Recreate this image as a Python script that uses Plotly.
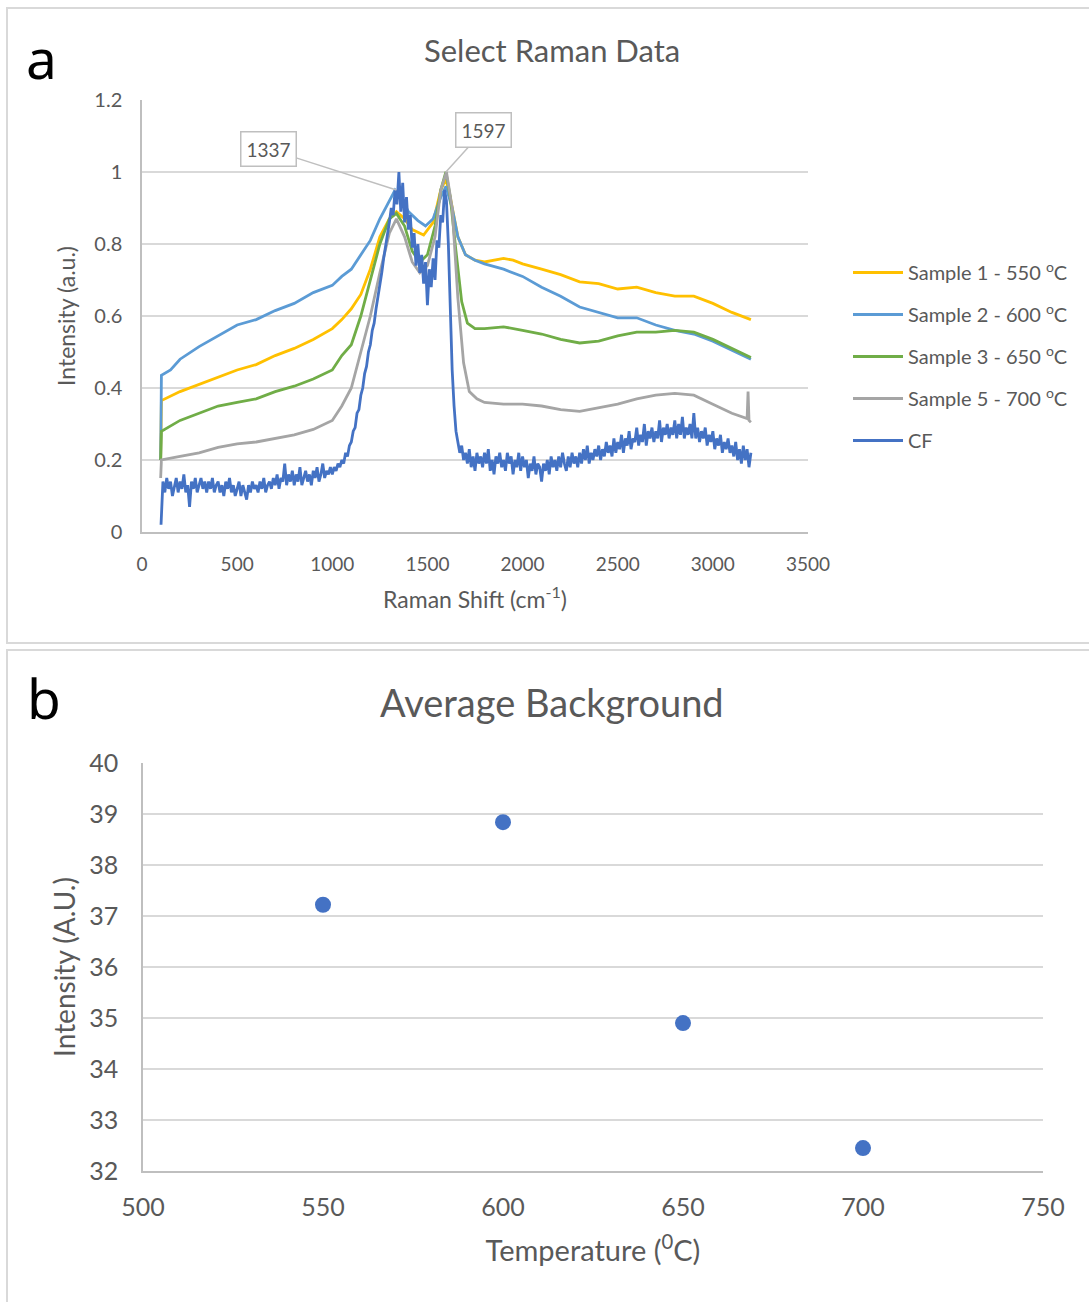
import plotly.graph_objects as go

# ---------------- Panel a: Raman spectra ----------------
s1_shift = [98, 102, 200, 300, 400, 500, 600, 700, 800, 900, 1000, 1050, 1100, 1150, 1200, 1250, 1300,
            1337, 1380, 1420, 1480, 1530, 1570, 1597, 1620, 1660, 1700, 1750, 1800, 1850, 1900, 1950,
            2000, 2100, 2200, 2300, 2400, 2500, 2600, 2700, 2800, 2900, 3000, 3100, 3200]
s1_int = [0.20, 0.365, 0.39, 0.41, 0.43, 0.45, 0.465, 0.49, 0.51, 0.535, 0.565, 0.59, 0.62, 0.66, 0.73,
          0.82, 0.87, 0.89, 0.87, 0.84, 0.825, 0.86, 0.95, 0.98, 0.93, 0.82, 0.77, 0.755, 0.75, 0.755,
          0.76, 0.755, 0.745, 0.73, 0.715, 0.695, 0.69, 0.675, 0.68, 0.665, 0.655, 0.655, 0.635, 0.61, 0.59]

s2_shift = [98, 102, 150, 200, 300, 400, 500, 600, 700, 800, 900, 1000, 1050, 1100, 1150, 1200, 1250,
            1300, 1330, 1360, 1400, 1450, 1490, 1530, 1570, 1597, 1630, 1660, 1700, 1750, 1800, 1900,
            2000, 2100, 2200, 2300, 2400, 2500, 2600, 2700, 2800, 2900, 3000, 3100, 3200]
s2_int = [0.20, 0.435, 0.45, 0.48, 0.515, 0.545, 0.575, 0.59, 0.615, 0.635, 0.665, 0.685, 0.71, 0.73,
          0.77, 0.81, 0.87, 0.92, 0.95, 0.93, 0.89, 0.865, 0.85, 0.87, 0.93, 0.96, 0.90, 0.82, 0.77,
          0.755, 0.745, 0.73, 0.71, 0.68, 0.655, 0.625, 0.61, 0.595, 0.595, 0.575, 0.56, 0.55, 0.53,
          0.505, 0.48]

s3_shift = [98, 102, 200, 300, 400, 500, 600, 700, 800, 900, 1000, 1050, 1100, 1150, 1200, 1250, 1300,
            1337, 1380, 1420, 1460, 1500, 1540, 1570, 1597, 1620, 1650, 1680, 1710, 1750, 1800, 1900,
            2000, 2100, 2200, 2300, 2400, 2500, 2600, 2700, 2800, 2900, 3000, 3100, 3200]
s3_int = [0.20, 0.28, 0.31, 0.33, 0.35, 0.36, 0.37, 0.39, 0.405, 0.425, 0.45, 0.49, 0.52, 0.60, 0.70,
          0.80, 0.87, 0.885, 0.85, 0.78, 0.75, 0.77, 0.85, 0.95, 1.00, 0.93, 0.78, 0.64, 0.58, 0.565,
          0.565, 0.57, 0.56, 0.55, 0.535, 0.525, 0.53, 0.545, 0.555, 0.555, 0.56, 0.555, 0.535, 0.51,
          0.485]

s5_shift = [98, 102, 200, 300, 400, 500, 600, 700, 800, 900, 1000, 1050, 1100, 1150, 1200, 1250, 1300,
            1337, 1380, 1420, 1460, 1500, 1540, 1570, 1600, 1630, 1660, 1690, 1720, 1760, 1800, 1900,
            2000, 2100, 2200, 2300, 2400, 2500, 2600, 2700, 2800, 2900, 3000, 3100, 3180, 3185, 3190,
            3200]
s5_int = [0.15, 0.20, 0.21, 0.22, 0.235, 0.245, 0.25, 0.26, 0.27, 0.285, 0.31, 0.35, 0.40, 0.50, 0.60,
          0.72, 0.83, 0.87, 0.82, 0.75, 0.72, 0.74, 0.82, 0.95, 1.00, 0.90, 0.65, 0.47, 0.39, 0.37,
          0.36, 0.355, 0.355, 0.35, 0.34, 0.335, 0.345, 0.355, 0.37, 0.38, 0.385, 0.38, 0.355, 0.33,
          0.315, 0.39, 0.31, 0.305]

cf_shift = list(range(100, 3201, 10))
cf_int = [
    0.02, 0.14, 0.11, 0.15, 0.12, 0.14, 0.10, 0.13, 0.15, 0.11,
    0.14, 0.12, 0.16, 0.11, 0.13, 0.07, 0.14, 0.12, 0.15, 0.11,
    0.13, 0.15, 0.12, 0.14, 0.11, 0.14, 0.12, 0.15, 0.11, 0.13,
    0.14, 0.11, 0.13, 0.10, 0.14, 0.12, 0.15, 0.11, 0.13, 0.10,
    0.12, 0.14, 0.10, 0.13, 0.11, 0.09, 0.13, 0.11, 0.14, 0.12,
    0.13, 0.11, 0.14, 0.12, 0.15, 0.11, 0.13, 0.14, 0.12, 0.15,
    0.13, 0.16, 0.12, 0.15, 0.14, 0.19, 0.13, 0.16, 0.14, 0.17,
    0.13, 0.16, 0.14, 0.18, 0.13, 0.15, 0.17, 0.14, 0.16, 0.13,
    0.17, 0.15, 0.18, 0.14, 0.16, 0.19, 0.15, 0.17, 0.16, 0.18,
    0.16, 0.18, 0.17, 0.19, 0.18, 0.20, 0.19, 0.22, 0.21, 0.24,
    0.25, 0.28, 0.29, 0.33, 0.34, 0.38, 0.40, 0.44, 0.46, 0.50,
    0.52, 0.56, 0.58, 0.62, 0.65, 0.69, 0.72, 0.76, 0.79, 0.83,
    0.86, 0.90, 0.88, 0.95, 0.91, 1.00, 0.89, 0.97, 0.86, 0.93,
    0.84, 0.88, 0.79, 0.83, 0.74, 0.80, 0.72, 0.77, 0.69, 0.75,
    0.63, 0.73, 0.68, 0.76, 0.70, 0.81, 0.79, 0.88, 0.86, 0.95,
    0.92, 0.80, 0.62, 0.45, 0.35, 0.28, 0.25, 0.22, 0.24, 0.20,
    0.22, 0.19, 0.23, 0.18, 0.21, 0.17, 0.22, 0.19, 0.21, 0.18,
    0.22, 0.19, 0.23, 0.17, 0.20, 0.16, 0.21, 0.19, 0.22, 0.18,
    0.20, 0.17, 0.22, 0.19, 0.21, 0.16, 0.20, 0.18, 0.22, 0.17,
    0.21, 0.18, 0.20, 0.15, 0.19, 0.17, 0.21, 0.16, 0.19, 0.18,
    0.14, 0.19, 0.17, 0.20, 0.16, 0.21, 0.18, 0.20, 0.17, 0.21,
    0.18, 0.22, 0.19, 0.17, 0.21, 0.18, 0.22, 0.19, 0.21, 0.18,
    0.22, 0.19, 0.23, 0.20, 0.24, 0.19, 0.22, 0.20, 0.23, 0.21,
    0.24, 0.20, 0.23, 0.21, 0.25, 0.22, 0.24, 0.21, 0.26, 0.22,
    0.25, 0.23, 0.27, 0.22, 0.26, 0.24, 0.28, 0.23, 0.26, 0.25,
    0.29, 0.24, 0.27, 0.25, 0.30, 0.24, 0.28, 0.26, 0.29, 0.25,
    0.28, 0.26, 0.31, 0.25, 0.29, 0.27, 0.30, 0.26, 0.29, 0.27,
    0.31, 0.26, 0.30, 0.27, 0.32, 0.26, 0.29, 0.27, 0.30, 0.26,
    0.33, 0.26, 0.29, 0.25, 0.28, 0.26, 0.29, 0.24, 0.27, 0.25,
    0.28, 0.23, 0.26, 0.24, 0.27, 0.22, 0.25, 0.23, 0.26, 0.22,
    0.24, 0.21, 0.25, 0.20, 0.23, 0.19, 0.24, 0.20, 0.23, 0.18,
    0.22,
]

series_names = ["Sample 1 - 550 <sup>o</sup>C", "Sample 2 - 600 <sup>o</sup>C",
                "Sample 3 - 650 <sup>o</sup>C", "Sample 5 - 700 <sup>o</sup>C", "CF"]

peak_labels = ["1337", "1597"]
peak_y = [0.95, 1.0]

# ---------------- Panel b: average background ----------------
temps = [550, 600, 650, 700]
bg_intensity = [37.22, 38.84, 34.90, 32.45]

# ---------------- styling ----------------
W, H = 1089, 1302
FONT = "Lato"
GREY_TXT = "#595959"
GRID = "#D9D9D9"
AXLINE = "#BFBFBF"
colors = ["#FFC000", "#5B9BD5", "#70AD47", "#A5A5A5", "#4472C4"]
widths = [2.8, 2.8, 2.8, 2.8, 2.8]


def px_x(p):
    return p / W


def px_y(p):
    return 1 - p / H


fig = go.Figure()

xs = [s1_shift, s2_shift, s3_shift, s5_shift, cf_shift]
ys = [s1_int, s2_int, s3_int, s5_int, cf_int]
for i in range(5):
    fig.add_trace(go.Scatter(
        x=xs[i], y=ys[i], mode="lines", name=series_names[i],
        line=dict(color=colors[i], width=widths[i]),
        legendgroup=f"g{i}", xaxis="x", yaxis="y",
    ))

fig.add_trace(go.Scatter(
    x=temps, y=bg_intensity, mode="markers",
    marker=dict(color="#4472C4", size=16),
    showlegend=False, xaxis="x2", yaxis="y2",
))

axis_common = dict(showgrid=False, zeroline=False, showline=True, linecolor=AXLINE,
                   linewidth=1.5, ticks="", color=GREY_TXT, automargin=False)

fig.update_layout(
    width=W, height=H,
    margin=dict(l=0, r=0, t=0, b=0, pad=0, autoexpand=False),
    paper_bgcolor="white", plot_bgcolor="white",
    font=dict(family=FONT, color=GREY_TXT),
    showlegend=True,
    legend=dict(x=px_x(848), y=px_y(253), xanchor="left", yanchor="top",
                font=dict(size=20, color=GREY_TXT, family=FONT),
                tracegroupgap=13, itemwidth=50, bgcolor="rgba(0,0,0,0)"),
    xaxis=dict(domain=[px_x(142), px_x(808)], range=[0, 3500], dtick=500, anchor="y",
               tickfont=dict(size=19), ticklabelstandoff=14,
               title=dict(text="Raman Shift (cm<sup>-1</sup>)", font=dict(size=23), standoff=18),
               **axis_common),
    yaxis=dict(domain=[px_y(532), px_y(100)], range=[0, 1.2], dtick=0.2, anchor="x",
               tickfont=dict(size=20), ticklabelstandoff=14,
               title=dict(text="Intensity (a.u.)", font=dict(size=23), standoff=12),
               **{**axis_common, "showgrid": True, "gridcolor": GRID, "gridwidth": 1.5}),
    xaxis2=dict(domain=[px_x(143), px_x(1043)], range=[500, 750], dtick=50, anchor="y2",
                tickfont=dict(size=25), ticklabelstandoff=13,
                title=dict(text="Temperature (<sup>0</sup>C)", font=dict(size=29), standoff=21),
                **axis_common),
    yaxis2=dict(domain=[px_y(1171), px_y(763)], range=[32, 40], dtick=1, anchor="x2",
                tickfont=dict(size=25), ticklabelstandoff=18,
                title=dict(text="Intensity (A.U.)", font=dict(size=28), standoff=5),
                **{**axis_common, "showgrid": True, "gridcolor": GRID, "gridwidth": 1.5}),
)

# panel frames
fig.add_shape(type="rect", xref="paper", yref="paper", x0=px_x(7), x1=px_x(1095),
              y0=px_y(643), y1=px_y(8), line=dict(color="#D9D9D9", width=2), layer="below")
fig.add_shape(type="rect", xref="paper", yref="paper", x0=px_x(7), x1=px_x(1095),
              y0=px_y(1305), y1=px_y(650), line=dict(color="#D9D9D9", width=2), layer="below")

# titles and panel letters
def paper_text(text, x, y, size, color=GREY_TXT, family=FONT):
    fig.add_annotation(text=text, xref="paper", yref="paper", x=px_x(x), y=px_y(y),
                       xanchor="center", yanchor="middle", showarrow=False,
                       font=dict(size=size, color=color, family=family))


paper_text("Select Raman Data", 552, 50, 31)
paper_text("Average Background", 552, 702, 38)
paper_text("a", 41, 58, 55, color="black", family="Noto Sans")
paper_text("b", 44, 697, 55, color="black", family="Noto Sans")

# peak callouts
offsets = [(-128, -41), (38, -42)]
peak_x = [float(p) for p in peak_labels]
for lab, xv, yv, (ax, ay) in zip(peak_labels, peak_x, peak_y, offsets):
    fig.add_annotation(text=lab, x=xv, y=yv, xref="x", yref="y", ax=ax, ay=ay,
                       showarrow=True, arrowhead=0, arrowwidth=1.5, arrowcolor="#BFBFBF",
                       bordercolor="#BFBFBF", borderwidth=1.5, borderpad=5, bgcolor="white",
                       font=dict(size=19, color=GREY_TXT, family=FONT))

fig.write_html(
    "out.html",
    config={"displayModeBar": False},
    post_script="document.body.style.margin='0';document.body.style.padding='0';"
                "document.documentElement.style.overflow='hidden';",
)
